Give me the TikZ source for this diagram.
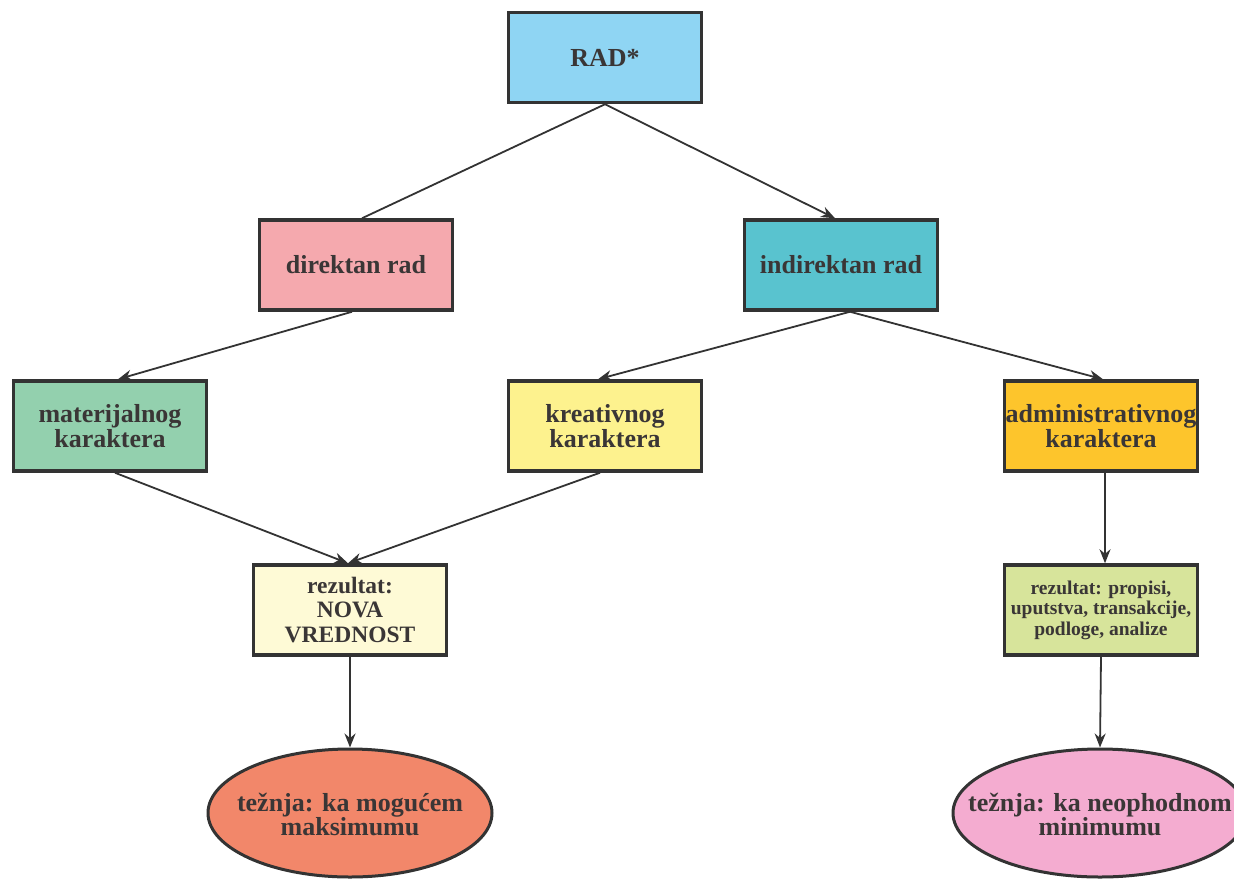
\documentclass[tikz,border=0pt]{standalone}
\usepackage{fontspec}
\setmainfont{Liberation Serif}
\usetikzlibrary{shapes.geometric,arrows.meta,calc}
\definecolor{edge}{HTML}{333333}
\definecolor{txt}{HTML}{3A3636}
\definecolor{cRad}{HTML}{8FD5F3}
\definecolor{cDir}{HTML}{F5A9AE}
\definecolor{cInd}{HTML}{59C3CF}
\definecolor{cMat}{HTML}{93D0AE}
\definecolor{cKre}{HTML}{FDF28E}
\definecolor{cAdm}{HTML}{FDC52C}
\definecolor{cNov}{HTML}{FEFAD6}
\definecolor{cPro}{HTML}{D7E49B}
\definecolor{cMax}{HTML}{F2876A}
\definecolor{cMin}{HTML}{F4ACD0}
\newcommand{\zw}[1]{\raisebox{-10pt}[0pt][0pt]{\makebox[0pt][c]{#1}}}
\tikzset{
  box/.style={draw=edge, line width=3.5pt, minimum width=193pt, minimum height=90pt,
    inner sep=0pt, align=center, text=txt, font=\fontsize{26}{25}\selectfont\bfseries},
  oval/.style={ellipse, draw=edge, line width=3pt, inner sep=0pt, align=center, text=txt,
    minimum height=128pt, font=\fontsize{26}{24}\selectfont\bfseries},
  conn/.style={draw=edge, line width=1.8pt},
  arr/.style={conn, -{Stealth[length=14pt,width=11pt]}}
}
\begin{document}
\begin{tikzpicture}[x=1pt,y=-1pt]
\path[use as bounding box, clip] (0,0) rectangle (1234,878);
\fill[white] (0,0) rectangle (1234,878);
\node[box, fill=cRad] (rad) at (605,57.5) {RAD*};
\node[box, fill=cDir] (dir) at (356,265) {direktan rad};
\node[box, fill=cInd] (ind) at (841,265) {indirektan rad};
\node[box, fill=cMat] (mat) at (110,426) {materijalnog\\karaktera};
\node[box, fill=cKre] (kre) at (605,426) {kreativnog\\karaktera};
\node[box, fill=cAdm] (adm) at (1101,426) {administrativnog\\karaktera};
\node[box, fill=cNov, font=\fontsize{23.5}{24.5}\selectfont\bfseries] (nov) at (350,610) {rezultat:\\NOVA\\VREDNOST};
\node[box, fill=cPro, font=\fontsize{19.5}{20.5}\selectfont\bfseries] (pro) at (1101,610) {rezultat: propisi,\\uputstva, transakcije,\\podloge, analize};
\node[oval, fill=cMax, minimum width=284pt] (max) at (350,813) {\zw{težnja: ka mogućem}\\\zw{maksimumu}};
\node[oval, fill=cMin, minimum width=294pt] (min) at (1100,813) {\zw{težnja: ka neophodnom}\\\zw{minimumu}};
\draw[conn] (rad.south) -- ($(dir.north)+(6,0)$);
\draw[arr] (rad.south) -- ($(ind.north)+(-6,0)$);
\draw[arr] ($(dir.south)+(-4,0)$) -- ($(mat.north)+(8,0)$);
\draw[arr] ($(ind.south)+(9,0)$) -- ($(kre.north)+(-7,0)$);
\draw[arr] ($(ind.south)+(9,0)$) -- ($(adm.north)+(2,0)$);
\draw[arr] ($(mat.south)+(5,0)$) -- ($(nov.north)+(-2,0)$);
\draw[arr] ($(kre.south)+(-5,0)$) -- ($(nov.north)+(-2,0)$);
\draw[arr] ($(adm.south)+(4,0)$) -- ($(pro.north)+(4,0)$);
\draw[arr] (nov.south) -- (max.north);
\draw[arr] (pro.south) -- (min.north);
\end{tikzpicture}
\end{document}
